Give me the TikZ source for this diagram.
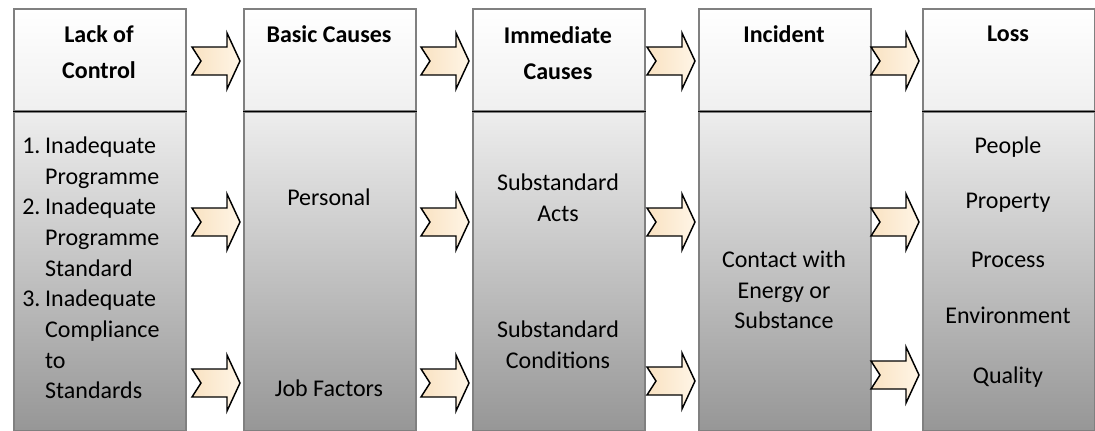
\documentclass[tikz,border=0pt]{standalone}
\usepackage{fontspec}
\setmainfont{Carlito}
\usetikzlibrary{positioning,calc,shadows}

\definecolor{boxgray}{HTML}{808080}
\definecolor{arrowdark}{HTML}{F9E2C2}
\definecolor{arrowlight}{HTML}{FFF5E6}

\tikzset{
  colhead/.style={draw=boxgray, line width=1.3pt, anchor=north west, inner sep=0pt,
    minimum width=129pt, minimum height=76.5pt,
    top color=white, bottom color=black!6,
    drop shadow={opacity=0.25, shadow xshift=1.2pt, shadow yshift=-1.2pt}},
  colbody/.style={colhead, minimum height=238.5pt,
    top color=black!7, bottom color=black!41},
  divider/.style={draw=black, line width=1.1pt},
  headtext/.style={font=\fontsize{18}{27}\selectfont\bfseries, align=center, inner sep=0pt},
  bodytext/.style={font=\fontsize{18}{23}\selectfont, align=center, inner sep=0pt},
  arrowbody/.style={draw=black, line width=1.1pt, line join=miter,
    left color=arrowdark, right color=arrowlight},
  blockarrow/.pic={
    \path[arrowbody] (-48,-14) -- (-13,-14) -- (-13,-28) -- (0,0) -- (-13,28)
      -- (-13,14) -- (-48,14) -- (-39,0) -- cycle;
  }
}

\begin{document}
\begin{tikzpicture}[x=0.75pt, y=-0.75pt]
  \useasboundingbox (0,0) rectangle (1095,430);

  % columns
  \foreach \name/\x in {lack/13, basic/243, immed/472, incid/698, loss/922} {
    \node[colhead] (\name-head) at (\x,8) {};
    \node[colbody] (\name-body) at (\name-head.south west) {};
    \draw[divider] (\name-head.south west) -- (\name-head.south east);
  }

  % arrows between columns
  \foreach \dest/\ylow in {basic/383, immed/383, incid/381, loss/375} {
    \foreach \y in {61, 222, \ylow} {
      \coordinate (lvl) at (0,\y);
      \pic at ($(\dest-body.west |- lvl)+(-3,0)$) {blockarrow};
    }
  }

  % titles
  \node[headtext] (lack-title)  at (99,52.5)  {Lack of\\Control};
  \node[headtext] (basic-title) at (329,34)   {Basic Causes};
  \node[headtext] (immed-title) at (558,53.5) {Immediate\\Causes};
  \node[headtext] (incid-title) at (784,34)   {Incident};
  \node[headtext] (loss-title)  at (1008,34)  {Loss};

  % contents
  \node[bodytext, anchor=west, align=left] (lack-list) at (22,270) {%
    \begin{tabular}{@{}l@{\hspace{3.5pt}}l@{}}
      1. & Inadequate\\
         & Programme\\
      2. & Inadequate\\
         & Programme\\
         & Standard\\
      3. & Inadequate\\
         & Compliance\\
         & to\\
         & Standards
    \end{tabular}};

  \node[bodytext] (personal)   at (329,197) {Personal};
  \node[bodytext] (jobfactors) at (329,388) {Job Factors};

  \node[bodytext] (acts)       at (558,198) {Substandard\\Acts};
  \node[bodytext] (conditions) at (558,345) {Substandard\\Conditions};

  \node[bodytext] (contact)    at (784,290) {Contact with\\Energy or\\Substance};

  \node[bodytext] (people)      at (1008,147) {People};
  \node[bodytext] (property)    at (1008,203) {Property};
  \node[bodytext] (process)     at (1008,260) {Process};
  \node[bodytext] (environment) at (1008,315) {Environment};
  \node[bodytext] (quality)     at (1008,377) {Quality};
\end{tikzpicture}
\end{document}
